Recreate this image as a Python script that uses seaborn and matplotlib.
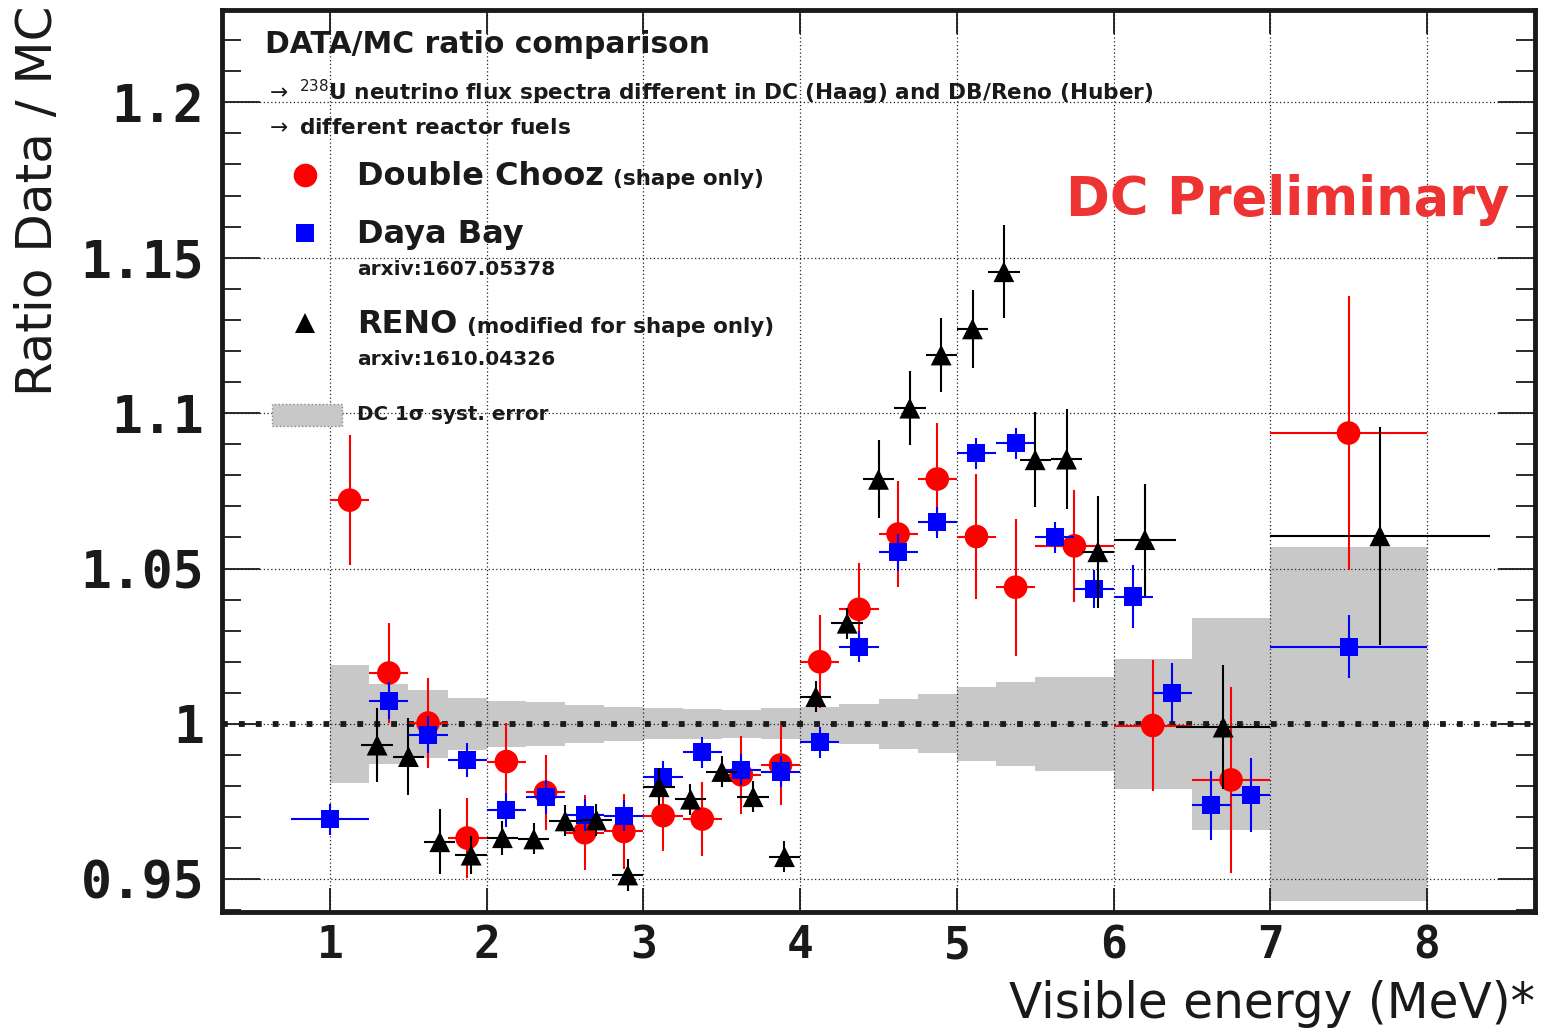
import numpy as np
import pandas as pd
import matplotlib
matplotlib.use("Agg")
import matplotlib.pyplot as plt
from matplotlib.patches import Rectangle
from matplotlib.lines import Line2D
from matplotlib.ticker import FixedLocator, MultipleLocator
import seaborn as sns

# Double Chooz (shape only)
dc_energy = [1.125, 1.375, 1.625, 1.875, 2.125, 2.375, 2.625, 2.875, 3.125, 3.375, 3.625,
             3.875, 4.125, 4.375, 4.625, 4.875, 5.125, 5.375, 5.75, 6.25, 6.75, 7.5]
dc_halfbin = [0.125] * 18 + [0.25, 0.25, 0.25, 0.5]
dc_ratio = [1.072, 1.0164, 1.0003, 0.9633, 0.9879, 0.978, 0.965, 0.9654, 0.9705, 0.9694, 0.9836,
            0.9868, 1.020, 1.0369, 1.0611, 1.0788, 1.0603, 1.044, 1.0573, 0.9995, 0.982, 1.0936]
dc_err = [0.021, 0.016, 0.0145, 0.013, 0.0125, 0.012, 0.012, 0.012, 0.0115, 0.012, 0.0125,
          0.013, 0.015, 0.015, 0.017, 0.018, 0.020, 0.022, 0.018, 0.021, 0.030, 0.044]

# Daya Bay
db_energy = [1.0, 1.375, 1.625, 1.875, 2.125, 2.375, 2.625, 2.875, 3.125, 3.375, 3.625, 3.875,
             4.125, 4.375, 4.625, 4.875, 5.125, 5.375, 5.625, 5.875, 6.125, 6.375, 6.625, 6.875, 7.5]
db_halfbin = [0.25] + [0.125] * 23 + [0.5]
db_ratio = [0.9694, 1.0075, 0.9965, 0.9884, 0.9723, 0.9766, 0.9707, 0.9704, 0.983, 0.9909, 0.9852, 0.9847,
            0.9941, 1.0248, 1.0552, 1.0649, 1.0871, 1.0903, 1.060, 1.0434, 1.041, 1.010, 0.9738, 0.9772, 1.0249]
db_err = [0.005, 0.006, 0.006, 0.0056, 0.0055, 0.0055, 0.005, 0.005, 0.005, 0.005, 0.005, 0.005,
          0.005, 0.005, 0.006, 0.005, 0.005, 0.005, 0.005, 0.006, 0.010, 0.0095, 0.011, 0.012, 0.010]

# RENO (modified for shape only)
reno_energy = [1.3, 1.5, 1.7, 1.9, 2.1, 2.3, 2.5, 2.7, 2.9, 3.1, 3.3, 3.5, 3.7, 3.9,
               4.1, 4.3, 4.5, 4.7, 4.9, 5.1, 5.3, 5.5, 5.7, 5.9, 6.2, 6.7, 7.7]
reno_halfbin = [0.1] * 24 + [0.2, 0.3, 0.7]
reno_ratio = [0.9932, 0.9895, 0.9621, 0.9578, 0.9634, 0.963, 0.9688, 0.9691, 0.9514, 0.9798, 0.9758,
              0.9847, 0.9766, 0.9573, 1.0088, 1.0324, 1.0787, 1.1016, 1.1187, 1.1271, 1.1455, 1.085,
              1.0852, 1.0554, 1.0593, 0.999, 1.0605]
reno_err = [0.012, 0.0125, 0.0105, 0.006, 0.0055, 0.005, 0.005, 0.005, 0.005, 0.006, 0.005,
            0.005, 0.005, 0.005, 0.005, 0.005, 0.0125, 0.012, 0.012, 0.0125, 0.015, 0.0153,
            0.016, 0.018, 0.018, 0.020, 0.035]

# DC 1 sigma systematic band (bin edges, half width around 1)
band_edges = [1.0, 1.25, 1.5, 1.75, 2.0, 2.25, 2.5, 2.75, 3.0, 3.25, 3.5, 3.75, 4.0, 4.25,
              4.5, 4.75, 5.0, 5.25, 5.5, 6.0, 6.5, 7.0, 8.0]
band_half = [0.019, 0.013, 0.011, 0.0085, 0.0075, 0.007, 0.006, 0.0055, 0.005, 0.0048, 0.0046,
             0.005, 0.0055, 0.0065, 0.008, 0.0095, 0.012, 0.0135, 0.015, 0.021, 0.034, 0.057]

x_ticks = [1, 2, 3, 4, 5, 6, 7, 8]
y_ticks = [0.95, 1.0, 1.05, 1.1, 1.15, 1.2]
y_tick_labels = ["0.95", "1", "1.05", "1.1", "1.15", "1.2"]

sns.set_theme(style="white")
plt.rcParams["font.family"] = ["DejaVu Sans"]
plt.rcParams["mathtext.fontset"] = "dejavusans"
plt.rcParams["text.color"] = "k"
plt.rcParams["xtick.color"] = "k"
plt.rcParams["ytick.color"] = "k"

fig = plt.figure(figsize=(15.42, 10.30), dpi=100)
ax = fig.add_axes([222 / 1542, 1 - 912 / 1030, 1313 / 1542, 902 / 1030])

# systematic band
half = np.array(band_half)
lo = np.r_[1 - half, 1 - half[-1]]
hi = np.r_[1 + half, 1 + half[-1]]
ax.fill_between(band_edges, lo, hi, step="post", color="#c8c8c8", lw=0, zorder=0.5)

ax.grid(True, which="major", color="#222222", linestyle=(0, (1, 2)), linewidth=0.9)
ax.axhline(1.0, color="k", lw=4.2, linestyle=(0, (1, 1.9)), dash_capstyle="butt", zorder=1.8)


def draw_series(x, y, yerr, xerr, color, marker, msize, z):
    ax.errorbar(x, y, yerr=yerr, xerr=xerr, fmt="none", ecolor=color,
                elinewidth=1.5, capsize=0, zorder=z)
    df = pd.DataFrame({"E": x, "R": y})
    sns.scatterplot(data=df, x="E", y="R", marker=marker, s=msize ** 2, color=color,
                    edgecolor="none", linewidth=0, ax=ax, zorder=z + 0.1, legend=False)


draw_series(dc_energy, dc_ratio, dc_err, dc_halfbin, "#ff0000", "o", 17, 3)
draw_series(db_energy, db_ratio, db_err, db_halfbin, "#0000ff", "s", 13, 4)
draw_series(reno_energy, reno_ratio, reno_err, reno_halfbin, "#000000", "^", 15, 5)

ax.set_xlim(0.31, 8.69)
ax.set_ylim(0.9395, 1.2297)
ax.set_xlabel("")
ax.set_ylabel("")
ax.xaxis.set_major_locator(FixedLocator(x_ticks))
ax.set_xticklabels([str(t) for t in x_ticks])
ax.yaxis.set_major_locator(FixedLocator(y_ticks))
ax.set_yticklabels(y_tick_labels)
ax.yaxis.set_minor_locator(MultipleLocator(0.01))
ax.tick_params(axis="both", which="both", direction="in", top=True, right=True,
               bottom=True, left=True, color="k")
ax.tick_params(axis="y", which="major", length=27, width=1.3, pad=13, labelsize=37)
ax.tick_params(axis="y", which="minor", length=14, width=1.3)
ax.tick_params(axis="x", which="major", length=17, width=1.3, pad=9, labelsize=32)
for lab in ax.get_xticklabels() + ax.get_yticklabels():
    lab.set_fontfamily("DejaVu Sans Mono")
    lab.set_fontweight("bold")
    lab.set_color("k")
for s in ax.spines.values():
    s.set_linewidth(3.5)
    s.set_color("k")

fig.text(38 / 1542, 1 - 201 / 1030, "Ratio Data / MC", rotation=90, ha="center", va="center", fontsize=36)
fig.text(1535 / 1542, 1 - 1018 / 1030, "Visible energy (MeV)*", ha="right", va="baseline", fontsize=35)

# legend / annotations block
tr = ax.transAxes
ax.text(0.0327, 0.9612, "DATA/MC ratio comparison", transform=tr, fontsize=21.5,
        fontweight="bold", va="center", ha="left")
ax.text(0.0327, 0.9091, r"$\rightarrow$ $^{238}$U neutrino flux spectra different in DC (Haag) and DB/Reno (Huber)",
        transform=tr, fontsize=15.6, fontweight="bold", va="center", ha="left")
ax.text(0.0327, 0.8692, r"$\rightarrow$ different reactor fuels", transform=tr, fontsize=15.6,
        fontweight="bold", va="center", ha="left")

entries = [
    ("o", "#ff0000", 17, 0.8171, 0.806, "Double Chooz", "(shape only)", None),
    ("s", "#0000ff", 13, 0.7528, 0.7417, "Daya Bay", "", "arxiv:1607.05378"),
    ("^", "#000000", 15, 0.653, 0.6419, "RENO", "(modified for shape only)", "arxiv:1610.04326"),
]
for mk, col, ms, ym, yb, name, note, ref in entries:
    ax.add_line(Line2D([0.0632], [ym], marker=mk, color=col, markersize=ms, markeredgewidth=0,
                       linestyle="none", transform=tr))
    t = ax.text(0.1028, yb, name, transform=tr, fontsize=23, fontweight="bold",
                va="baseline", ha="left")
    if note:
        ax.annotate(note, xy=(1, yb), xycoords=(t, tr), xytext=(7, 0), textcoords="offset points",
                    fontsize=15.5, fontweight="bold", va="baseline", ha="left")
    if ref:
        ax.text(0.1028, yb - 0.0355, ref, transform=tr, fontsize=14.5, fontweight="bold",
                va="baseline", ha="left")

ax.add_patch(Rectangle((0.0381, 0.5388), 0.0533, 0.0244, transform=tr, facecolor="#c8c8c8",
                       edgecolor="#888888", linestyle=":", linewidth=1))
ax.text(0.1028, 0.551, "DC 1σ syst. error", transform=tr, fontsize=14.3, fontweight="bold",
        va="center", ha="left")

ax.text(0.8119, 0.7894, "DC Preliminary", transform=tr, fontsize=38, fontweight="bold",
        color="#ee3333", va="center", ha="center")

fig.savefig("out.png", dpi=100)
